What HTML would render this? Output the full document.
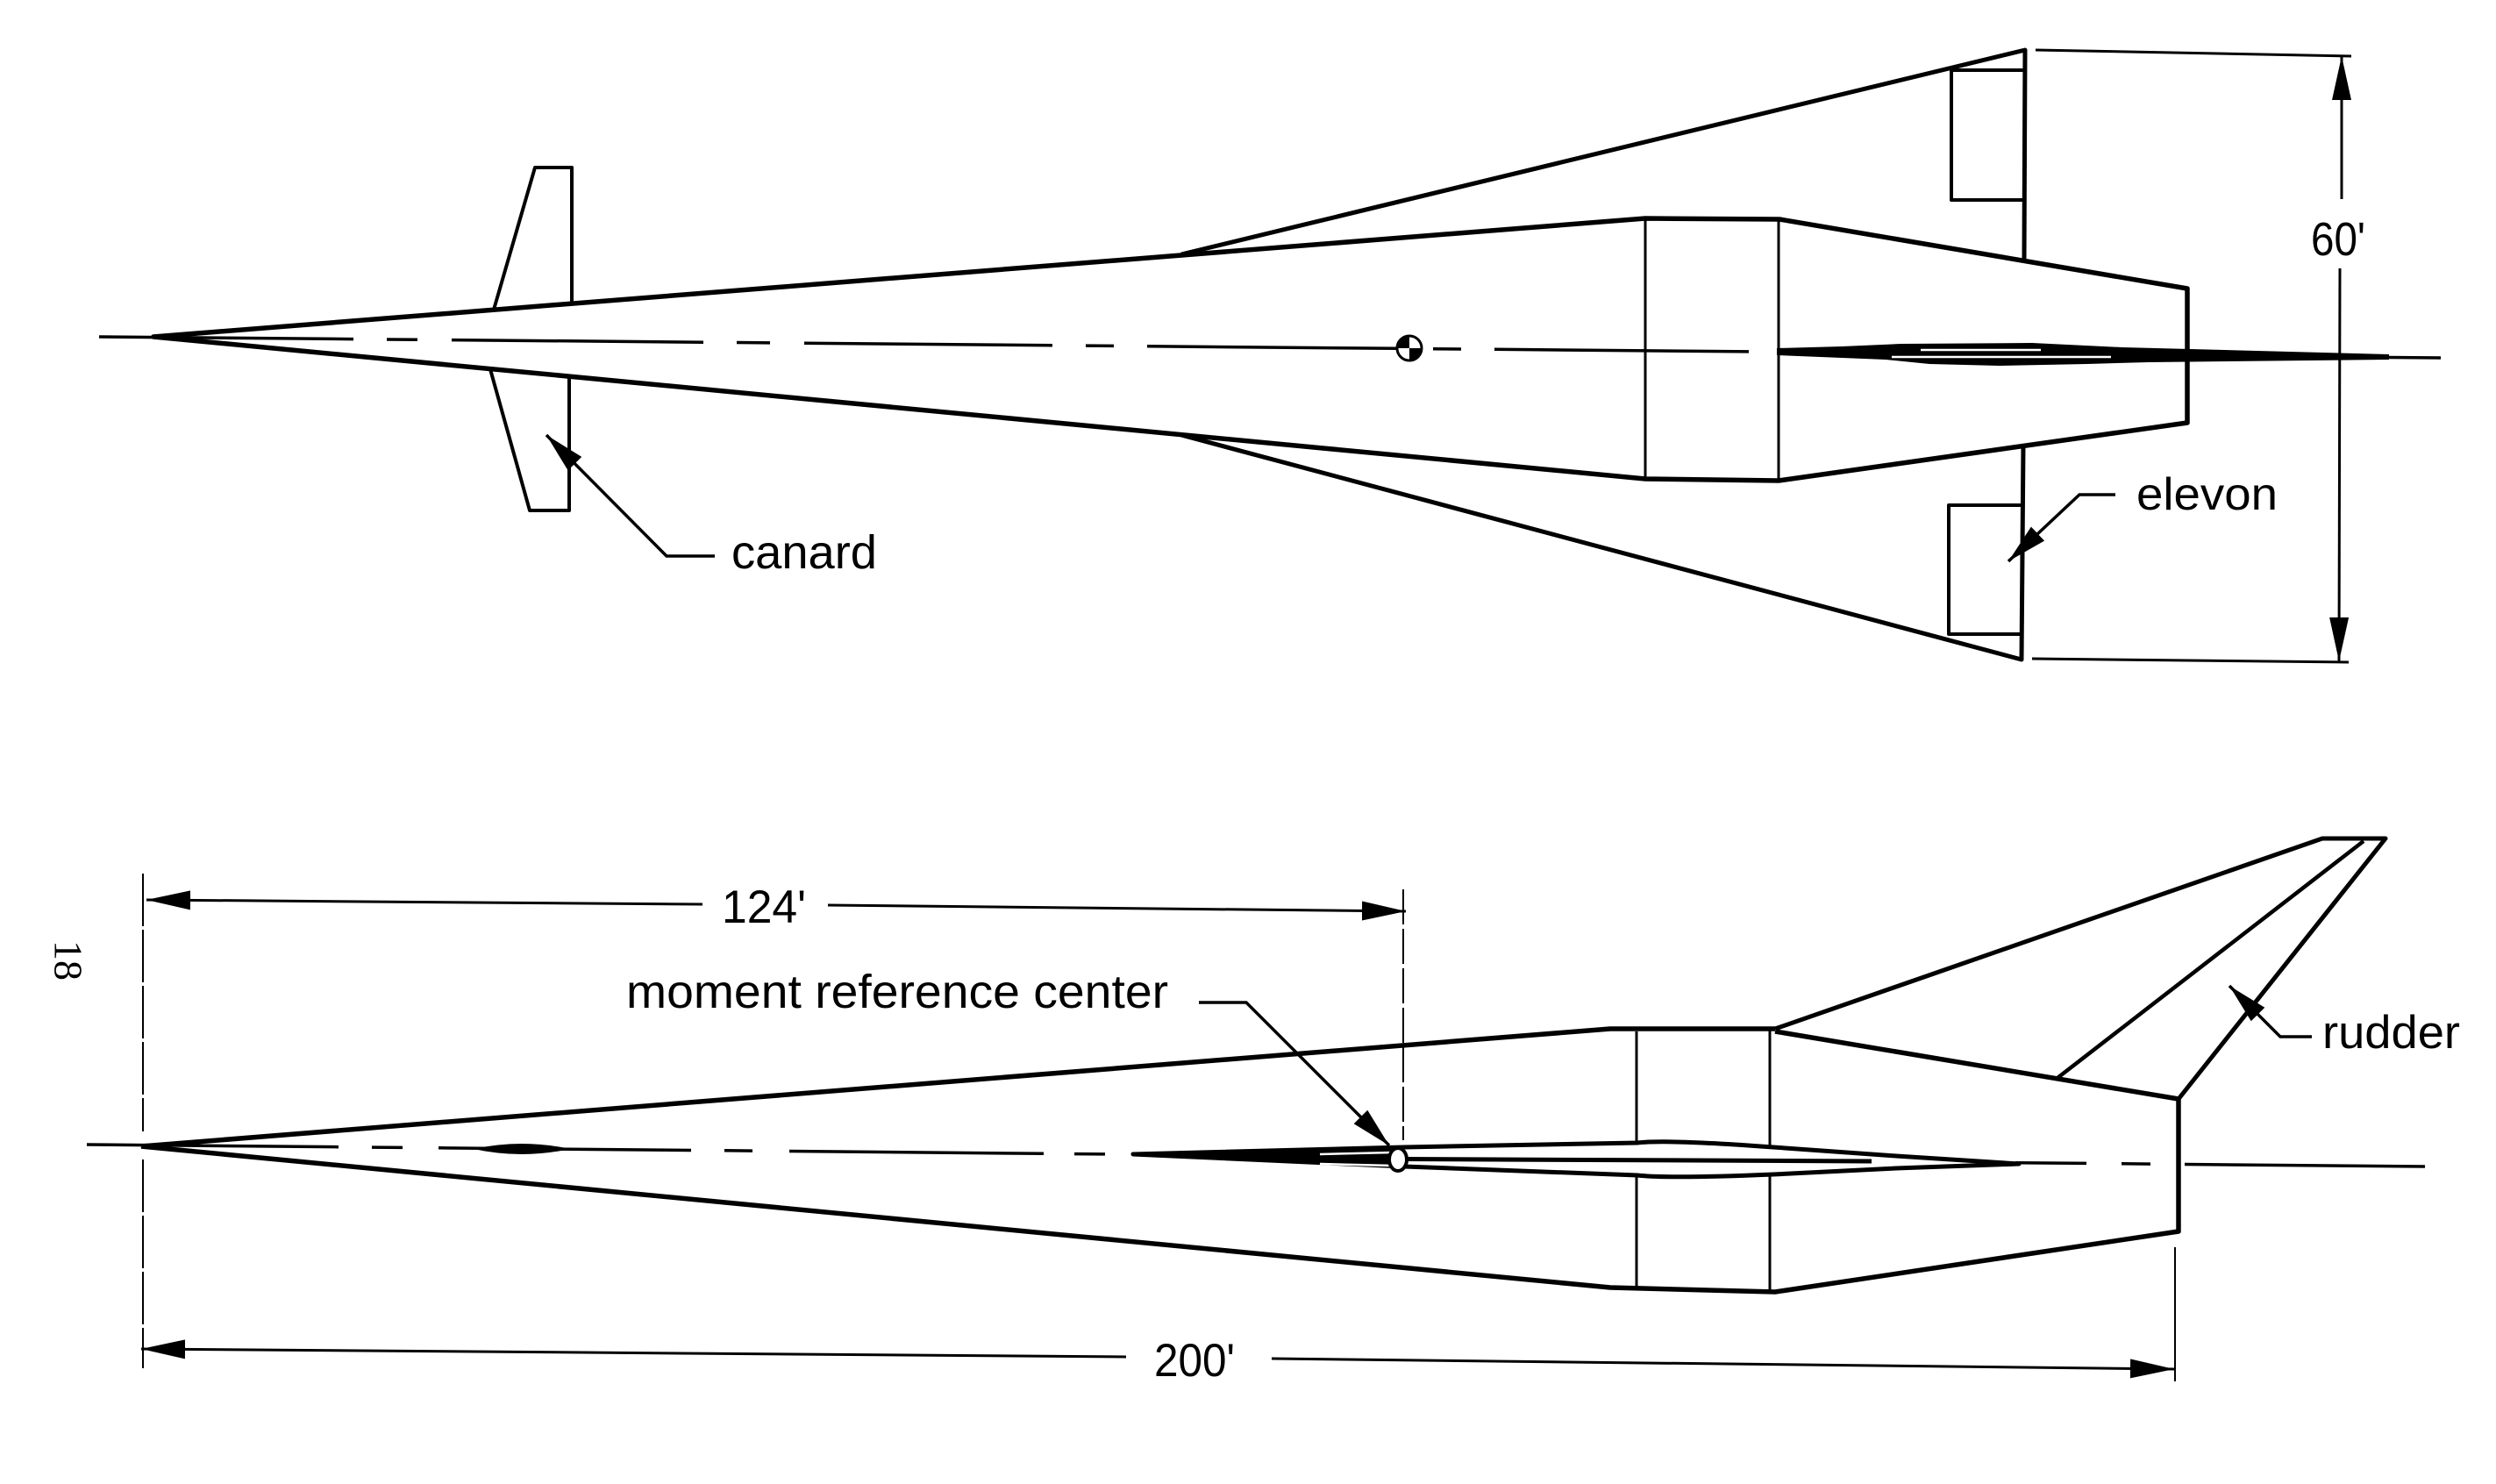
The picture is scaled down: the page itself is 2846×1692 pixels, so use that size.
<!DOCTYPE html>
<html><head><meta charset="utf-8"><style>
html,body{margin:0;padding:0;background:#fff;}
svg{display:block;}
text{font-family:"Liberation Sans",Arial,sans-serif;fill:#000;}
</style></head><body>
<svg width="2846" height="1692" viewBox="0 0 2846 1692" xmlns="http://www.w3.org/2000/svg">
<defs>
<marker id="a" viewBox="0 0 50 22" refX="50" refY="11" markerWidth="50" markerHeight="22" orient="auto" markerUnits="userSpaceOnUse"><path d="M0,0L50,11L0,22z" fill="#000"/></marker>
<marker id="b" viewBox="0 0 46 22" refX="46" refY="11" markerWidth="46" markerHeight="22" orient="auto" markerUnits="userSpaceOnUse"><path d="M0,0L46,11L0,22z" fill="#000"/></marker>
</defs>
<rect width="2846" height="1692" fill="#fff"/>

<!-- ================= TOP VIEW ================= -->
<g fill="none" stroke="#000" stroke-linejoin="round">
  <path d="M175,384 L1876,249 L2029,250 L2494,329 L2494,482 L2028,548 L1876,546 Z" stroke-width="5.5"/>
  <path d="M1347,290 L2309,57 L2308,297" stroke-width="5"/>
  <path d="M1347,496 L2305,752 L2307,507" stroke-width="5"/>
  <path d="M2309,80 L2225,80 L2225,228 L2308,228" stroke-width="4"/>
  <path d="M2307,576 L2222,576 L2222,723 L2305,723" stroke-width="4"/>
  <path d="M1876,249 L1876,546 M2028,250 L2028,548" stroke-width="3"/>
  <path d="M563,353 L610,191 L652,191 L652,346" stroke-width="4"/>
  <path d="M559,421 L604,582 L649,582 L649,429" stroke-width="4"/>
  <path d="M113,384 L403,386.6 M441,387 L476,387.3 M515,387.6 L802,390.2 M840,390.5 L878,390.9 M917,391.2 L1200,393.8 M1238,394.1 L1270,394.4 M1308,394.8 L1592,397.3 M1634,397.7 L1666,398 M1704,398.3 L1994,400.9 M2724,407.5 L2783,408" stroke-width="3.5"/>
</g>
<path d="M2026,397 L2100,395 L2167,392 L2317,391 L2420,396 L2724,404 L2724,410 L2450,413 L2380,415 L2280,417 L2200,415 L2150,410 L2026,405 Z" fill="#000"/>
<path d="M2190,399 L2327,399 M2157,407 L2407,407" stroke="#fff" stroke-width="2.5"/>
<circle cx="1607" cy="397" r="14" fill="#fff" stroke="#000" stroke-width="3"/>
<path d="M1607,397 L1593,397 A14,14 0 0,1 1607,383 Z M1607,397 L1621,397 A14,14 0 0,1 1607,411 Z" fill="#000"/>

<g fill="none" stroke="#000">
  <path d="M2321,57 L2681,64 M2317,751 L2678,755" stroke-width="3"/>
  <path d="M2670,227 L2670,64" stroke-width="3" marker-end="url(#a)"/>
  <path d="M2668,306 L2667,754" stroke-width="3" marker-end="url(#a)"/>
  <path d="M815,634 L760,634 L623,496" stroke-width="3.5" marker-end="url(#b)"/>
  <path d="M2412,564 L2371,564 L2290,640" stroke-width="3.5" marker-end="url(#b)"/>
</g>
<text x="2635" y="291" font-size="54" textLength="62" lengthAdjust="spacingAndGlyphs">60'</text>
<text x="834" y="648" font-size="54" textLength="166" lengthAdjust="spacingAndGlyphs">canard</text>
<text x="2436" y="581" font-size="52" textLength="161" lengthAdjust="spacingAndGlyphs">elevon</text>

<!-- ================= SIDE VIEW ================= -->
<g fill="none" stroke="#000" stroke-linejoin="round">
  <path d="M161,1307 L1836,1173 L2024,1173" stroke-width="5.5"/>
  <path d="M2024,1176 L2484,1253 L2484,1404 L2024,1473 L1836,1468 L161,1307" stroke-width="5.5"/>
  <path d="M2024,1173 L2648,956 L2720,956 L2484,1253" stroke-width="5"/>
  <path d="M2695,959 L2346,1229" stroke-width="4.5"/>
  <path d="M1866,1176 L1866,1303 M1866,1341 L1866,1468 M2018,1174 L2018,1307 M2018,1341 L2018,1471" stroke-width="3"/>
  <path d="M99,1305 L386,1307.7 M424,1308.1 L459,1308.4 M500,1308.8 L788,1311.5 M826,1311.8 L858,1312.1 M900,1312.5 L1190,1315.3 M1225,1315.6 L1260,1315.9 M2298,1325.7 L2379,1326.4 M2419,1326.8 L2452,1327.1 M2491,1327.5 L2765,1330" stroke-width="3.5"/>
  <path d="M1292,1316 L1601,1308 L1867,1303 Q1902,1299 2022,1308 L2162,1318 L2302,1327 L2162,1332 L2022,1339 Q1902,1344 1867,1340 L1601,1330 Z" stroke-width="5"/>
  <path d="M1500,1321 L2134,1324" stroke-width="5"/>
</g>
<path d="M540,1310 Q595,1298 650,1310 Q595,1322 540,1310 Z" fill="#000"/>
<path d="M1292,1316 L1601,1308 L1601,1330 L1292,1318 Z" fill="#000"/>
<path d="M1505,1316 L1588,1314 M1505,1327 L1588,1329" stroke="#fff" stroke-width="2.5"/>
<ellipse cx="1594" cy="1322" rx="10" ry="13" fill="#fff" stroke="#000" stroke-width="4"/>

<g fill="none" stroke="#000">
  <path d="M163,996 L163,1290 M163,1322 L163,1560" stroke-width="2" stroke-dasharray="60,4"/>
  <path d="M1600,1014 L1600,1300" stroke-width="2" stroke-dasharray="40,5"/>
  <path d="M2480,1422 L2480,1575" stroke-width="2"/>
  <path d="M801,1031 L167,1026" stroke-width="3" marker-end="url(#a)"/>
  <path d="M944,1032 L1603,1039" stroke-width="3" marker-end="url(#a)"/>
  <path d="M1284,1547 L161,1538" stroke-width="3" marker-end="url(#a)"/>
  <path d="M1450,1549 L2479,1561" stroke-width="3" marker-end="url(#a)"/>
  <path d="M1367,1143 L1421,1143 L1584,1306" stroke-width="3.5" marker-end="url(#b)"/>
  <path d="M2636,1182 L2600,1182 L2542,1124" stroke-width="3.5" marker-end="url(#b)"/>
</g>
<text x="823" y="1052" font-size="53" textLength="96" lengthAdjust="spacingAndGlyphs">124'</text>
<text x="1316" y="1569" font-size="53" textLength="92" lengthAdjust="spacingAndGlyphs">200'</text>
<text x="714" y="1149" font-size="54" textLength="618" lengthAdjust="spacingAndGlyphs">moment reference center</text>
<text x="2648" y="1195" font-size="53" textLength="157" lengthAdjust="spacingAndGlyphs">rudder</text>
<text x="0" y="0" font-size="46" text-anchor="middle" dominant-baseline="central" style="font-family:'Liberation Serif',serif" transform="translate(78,1095) rotate(90)">18</text>
</svg>
</body></html>
